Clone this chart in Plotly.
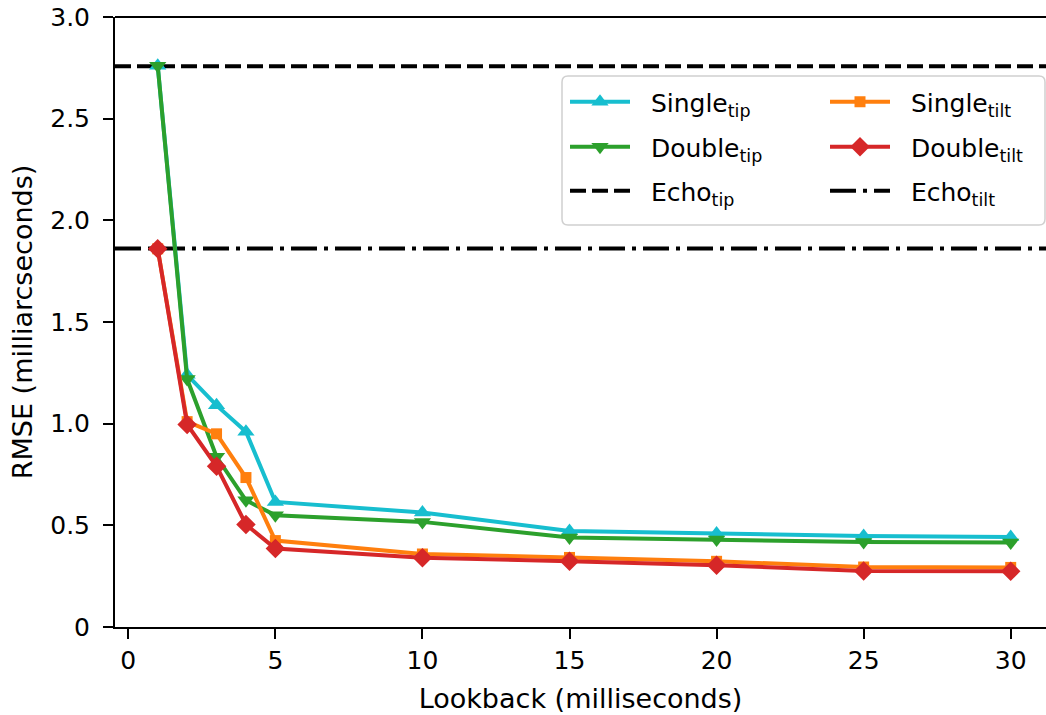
import plotly.graph_objects as go

# ---------------- data ----------------
lookback = [1, 2, 3, 4, 5, 10, 15, 20, 25, 30]
single_tip = [2.76, 1.24, 1.09, 0.96, 0.615, 0.563, 0.472, 0.460, 0.448, 0.443]
double_tip = [2.76, 1.22, 0.837, 0.623, 0.550, 0.517, 0.440, 0.430, 0.418, 0.415]
single_tilt = [1.86, 1.01, 0.950, 0.735, 0.425, 0.359, 0.342, 0.323, 0.295, 0.293]
double_tilt = [1.86, 0.996, 0.790, 0.504, 0.386, 0.341, 0.323, 0.304, 0.276, 0.274]
echo_tip = 2.758
echo_tilt = 1.862

x_ticks = [0, 5, 10, 15, 20, 25, 30]
y_ticks = [0, 0.5, 1.0, 1.5, 2.0, 2.5, 3.0]
y_ticklabels = ["0", "0.5", "1.0", "1.5", "2.0", "2.5", "3.0"]

FONT = "DejaVu Sans"
W, H = 1046, 715
L, R, T, B = 115, 0, 17, 88
PW, PH = W - L - R, H - T - B
PAD = "&nbsp;&nbsp;"


def px2paper_x(px):
    return (px - L) / PW


def px2paper_y(py):
    return (H - B - py) / PH


fig = go.Figure()

series = [
    ("Single<sub>tip</sub>", single_tip, "#17becf", "triangle-up", 15, "legend"),
    ("Double<sub>tip</sub>", double_tip, "#2ca02c", "triangle-down", 15, "legend2"),
    ("Single<sub>tilt</sub>", single_tilt, "#ff7f0e", "square", 11, "legend4"),
    ("Double<sub>tilt</sub>", double_tilt, "#d62728", "diamond", 15, "legend5"),
]
for name, vals, color, sym, size, lg in series:
    fig.add_trace(go.Scatter(
        x=lookback, y=vals, name=PAD + name, mode="lines+markers",
        line=dict(color=color, width=4),
        marker=dict(symbol=sym, size=size, color=color, line=dict(width=0)),
        legend=lg,
    ))

# Echo horizontal lines as shapes with legend entries
fig.add_shape(type="line", xref="paper", x0=0, x1=1, yref="y", y0=echo_tip, y1=echo_tip,
              line=dict(color="black", width=4, dash="16px,6px"), layer="below",
              showlegend=True, name=PAD + "Echo<sub>tip</sub>", legend="legend3")
fig.add_shape(type="line", xref="paper", x0=0, x1=1, yref="y", y0=echo_tilt, y1=echo_tilt,
              line=dict(color="black", width=4, dash="26px,7px,4px,7px"), layer="below",
              showlegend=True, name=PAD + "Echo<sub>tilt</sub>", legend="legend6")

# top spine
fig.add_shape(type="line", xref="paper", yref="paper", x0=0, x1=1, y0=1, y1=1,
              line=dict(color="black", width=2), layer="above")

# legend frame (rounded)
fx0, fx1 = px2paper_x(562), px2paper_x(1045)
fy0, fy1 = px2paper_y(225), px2paper_y(76)
rx, ry = 6 / PW, 6 / PH
path = (f"M{fx0+rx},{fy1} L{fx1-rx},{fy1} Q{fx1},{fy1} {fx1},{fy1-ry} "
        f"L{fx1},{fy0+ry} Q{fx1},{fy0} {fx1-rx},{fy0} L{fx0+rx},{fy0} "
        f"Q{fx0},{fy0} {fx0},{fy0+ry} L{fx0},{fy1-ry} Q{fx0},{fy1} {fx0+rx},{fy1} Z")
fig.add_shape(type="path", xref="paper", yref="paper", path=path,
              line=dict(color="#d0d0d0", width=1.5), fillcolor="rgba(255,255,255,0.85)",
              layer="above")

legend_common = dict(bgcolor="rgba(0,0,0,0)", borderwidth=0, xanchor="left", yanchor="middle",
                     font=dict(family=FONT, size=25, color="black"), itemwidth=60)
col_line_x = [570, 830]
row_y = [102, 147, 191]
legend_layout = {}
names = ["legend", "legend2", "legend3", "legend4", "legend5", "legend6"]
for i, lg in enumerate(names):
    c, r = divmod(i, 3)
    legend_layout[lg] = dict(legend_common, x=px2paper_x(col_line_x[c] - 5), y=px2paper_y(row_y[r]))

fig.update_layout(
    width=W, height=H,
    margin=dict(l=L, r=R, t=T, b=B, pad=0),
    paper_bgcolor="white", plot_bgcolor="white",
    font=dict(family=FONT, size=25, color="black"),
    showlegend=True,
    **legend_layout,
)

axis_common = dict(showgrid=False, zeroline=False, showline=True, linecolor="black", linewidth=2,
                   ticks="outside", ticklen=10, tickwidth=2, tickcolor="black",
                   tickfont=dict(family=FONT, size=25, color="black"))
fig.update_xaxes(range=[-0.452, 31.2], tickvals=x_ticks,
                 title=dict(text="Lookback (milliseconds)", font=dict(family=FONT, size=27), standoff=15),
                 **axis_common)
fig.update_yaxes(range=[0, 3.0], tickvals=y_ticks, ticktext=y_ticklabels, ticklabelstandoff=8,
                 title=dict(text="RMSE (milliarcseconds)", font=dict(family=FONT, size=27), standoff=10),
                 **axis_common)

fig.write_html("out.html")
